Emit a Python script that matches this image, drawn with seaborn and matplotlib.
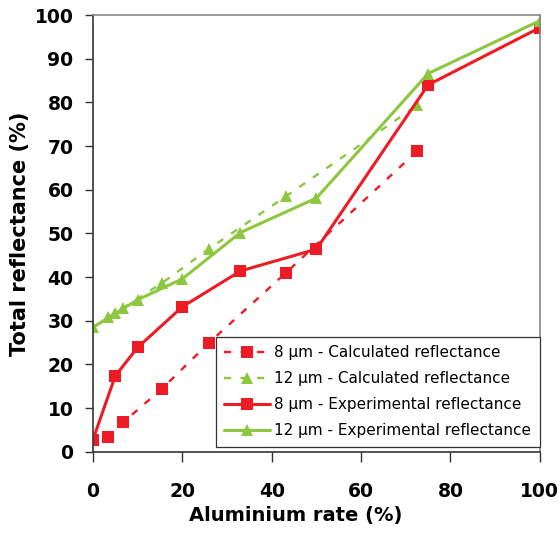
import matplotlib
matplotlib.use("Agg")
import matplotlib.pyplot as plt
import numpy as np
import pandas as pd
import seaborn as sns

# Aluminium rate (%) and total reflectance (%) for each series
calc_x = [3.4, 6.8, 15.4, 26.0, 43.2, 72.5]
calc_8um = [3.3, 6.8, 14.4, 25.0, 41.0, 68.8]
calc_12um = [30.8, 33.0, 38.6, 46.5, 58.5, 79.3]

exp_x = [0, 5, 10, 20, 33, 50, 75, 100]
exp_8um = [2.8, 17.4, 23.9, 33.2, 41.4, 46.4, 84.0, 97.1]
exp_12um = [28.5, 31.7, 34.8, 39.6, 50.2, 58.1, 86.6, 98.7]

labels = [
    "8 µm - Calculated reflectance",
    "12 µm - Calculated reflectance",
    "8 µm - Experimental reflectance",
    "12 µm - Experimental reflectance",
]
x_ticks = [0, 20, 40, 60, 80, 100]
y_ticks = list(range(0, 101, 10))

RED = "#ed1c24"
GREEN = "#8dc63f"

sns.set_style("ticks")
plt.rcParams["font.family"] = ["DejaVu Sans"]
plt.rcParams["text.color"] = "black"
plt.rcParams["axes.labelcolor"] = "black"
plt.rcParams["xtick.labelcolor"] = "black"
plt.rcParams["ytick.labelcolor"] = "black"

fig = plt.figure(figsize=(5.6, 5.36), dpi=100)
ax = fig.add_axes([0.166, 0.157, 0.798, 0.815])

series = [
    (calc_x, calc_8um, RED, "s", (0, (3, 4)), 1.7, labels[0]),
    (calc_x, calc_12um, GREEN, "^", (0, (3, 4)), 1.7, labels[1]),
    (exp_x, exp_8um, RED, "s", "-", 2.2, labels[2]),
    (exp_x, exp_12um, GREEN, "^", "-", 2.2, labels[3]),
]
for xs, ys, color, marker, ls, lw, lab in series:
    df = pd.DataFrame({"x": xs, "y": ys})
    sns.lineplot(
        data=df, x="x", y="y", ax=ax, color=color, marker=marker,
        markersize=8.5, markeredgewidth=0, linestyle=ls, linewidth=lw,
        label=lab,
    )

ax.set_xlim(0, 100)
ax.set_ylim(0, 100)
ax.set_xticks(x_ticks)
ax.set_yticks(y_ticks)
ax.set_xlabel("Aluminium rate (%)", fontsize=14, fontweight="bold", labelpad=5)
ax.set_ylabel("Total reflectance (%)", fontsize=15, fontweight="bold", labelpad=3)
ax.xaxis.set_label_coords(0.454, -0.125)

for lab in ax.get_xticklabels() + ax.get_yticklabels():
    lab.set_fontweight("bold")
ax.tick_params(axis="x", direction="out", length=7, width=1, pad=15,
               labelsize=13.5, color="#333333")
ax.tick_params(axis="y", direction="out", length=6, width=1, pad=8,
               labelsize=13.5, color="#333333")

for side in ["left", "bottom"]:
    ax.spines[side].set_color("#333333")
    ax.spines[side].set_linewidth(1.2)
for side in ["top", "right"]:
    ax.spines[side].set_visible(True)
    ax.spines[side].set_color("#888888")
    ax.spines[side].set_linewidth(1.2)

leg = ax.legend(
    loc="lower right", bbox_to_anchor=(1.0, 0.012), fontsize=11,
    frameon=True, fancybox=False, framealpha=1, edgecolor="#333333",
    handlelength=3.0, handletextpad=0.3, labelspacing=0.72,
    borderpad=0.55, borderaxespad=0, numpoints=1,
)
leg.get_frame().set_linewidth(0.9)

fig.savefig("out.png", dpi=100, facecolor="white")
